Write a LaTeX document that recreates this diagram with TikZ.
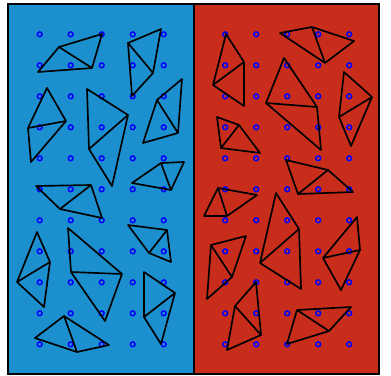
\documentclass[tikz,border=0pt]{standalone}
\definecolor{panelblue}{RGB}{28,144,206}
\definecolor{panelred}{RGB}{199,45,26}
\definecolor{dotblue}{RGB}{0,0,255}
\begin{document}
\begin{tikzpicture}[x=0.75pt,y=-0.75pt,
  frame/.style={draw=black,line width=1.6pt},
  tri/.style={draw=black,line width=1.25pt,line join=round},
  dot/.style={draw=dotblue,line width=1.1pt}]
\useasboundingbox (0,0) rectangle (391,375);
\fill[white] (0,0) rectangle (391,375);
\fill[panelblue] (8,4) rectangle (194,374);
\fill[panelred] (194,4) rectangle (379,374);
\draw[frame] (8,4) rectangle (194,374);
\draw[frame] (194,4) rectangle (379,374);
% grid of circles
\foreach \j in {0,...,10}{
  \foreach \i in {0,...,4}{
    \draw[dot] ({39.7+31*\i},{34.3+31*\j}) circle (2.4);
    \draw[dot] ({225.2+31*\i},{34.3+31*\j}) circle (2.4);
  }
}
% left panel triangles
\draw[tri] (59,47) -- (102,34) -- (92,68) -- cycle (59,47) -- (38,72) -- (92,68);
\draw[tri] (128,43) -- (161,29) -- (153,73) -- cycle (128,43) -- (132,96) -- (153,73);
\draw[tri] (182,79) -- (157,100) -- (178,133) -- cycle (157,100) -- (143,143) -- (178,133);
\draw[tri] (47,88) -- (66,121) -- (28,128) -- cycle (66,121) -- (31,162) -- (28,128);
\draw[tri] (87,89) -- (128,115) -- (89,149) -- cycle (128,115) -- (112,186) -- (89,149);
\draw[tri] (161,163) -- (184,162) -- (171,190) -- cycle (161,163) -- (132,183) -- (171,190);
\draw[tri] (36,186) -- (91,185) -- (60,209) -- cycle (91,185) -- (102,218) -- (60,209);
\draw[tri] (128,225) -- (167,230) -- (149,253) -- cycle (167,230) -- (171,262) -- (149,253);
\draw[tri] (37,232) -- (50,262) -- (17,282) -- cycle (50,262) -- (44,307) -- (17,282);
\draw[tri] (68,228) -- (122,274) -- (71,272) -- cycle (122,274) -- (105,321) -- (71,272);
\draw[tri] (144,272) -- (175,293) -- (144,317) -- cycle (175,293) -- (161,344) -- (144,317);
\draw[tri] (64,316) -- (35,338) -- (77,352) -- cycle (64,316) -- (109,345) -- (77,352);
% right panel triangles
\draw[tri] (226,34) -- (244,62) -- (213,85) -- cycle (244,62) -- (244,106) -- (213,85);
\draw[tri] (280,33) -- (312,27) -- (325,63) -- cycle (312,27) -- (354,41) -- (325,63);
\draw[tri] (284,58) -- (317,107) -- (266,103) -- cycle (317,107) -- (321,150) -- (266,103);
\draw[tri] (344,72) -- (372,97) -- (339,117) -- cycle (372,97) -- (351,146) -- (339,117);
\draw[tri] (217,117) -- (239,125) -- (221,148) -- cycle (239,125) -- (260,153) -- (221,148);
\draw[tri] (286,160) -- (328,170) -- (298,194) -- cycle (328,170) -- (353,192) -- (298,194);
\draw[tri] (218,188) -- (257,195) -- (227,216) -- cycle (218,188) -- (204,216) -- (227,216);
\draw[tri] (276,193) -- (299,229) -- (260,263) -- cycle (299,229) -- (301,289) -- (260,263);
\draw[tri] (357,217) -- (360,250) -- (323,258) -- cycle (360,250) -- (341,290) -- (323,258);
\draw[tri] (211,245) -- (246,236) -- (232,277) -- cycle (211,245) -- (207,299) -- (232,277);
\draw[tri] (256,282) -- (261,335) -- (235,306) -- cycle (261,335) -- (227,350) -- (235,306);
\draw[tri] (297,310) -- (351,307) -- (329,331) -- cycle (297,310) -- (287,344) -- (329,331);
\end{tikzpicture}
\end{document}
